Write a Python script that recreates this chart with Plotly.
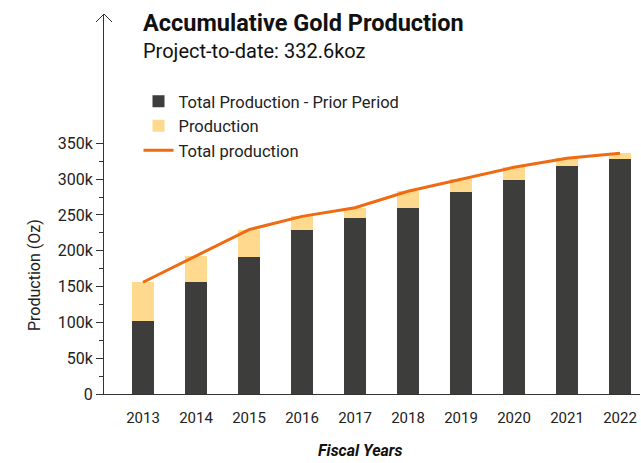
import plotly.graph_objects as go

years = ["2013", "2014", "2015", "2016", "2017", "2018", "2019", "2020", "2021", "2022"]
prior_period = [102000, 156000, 191000, 229000, 245500, 259500, 281500, 298500, 318000, 327500]
production = [54000, 36500, 38500, 19000, 14500, 23500, 18000, 18000, 11000, 8500]
total_production = [156000, 192500, 229500, 248000, 260000, 283000, 299500, 316500, 329000, 336000]
y_tick_vals = [0, 50000, 100000, 150000, 200000, 250000, 300000, 350000]
y_tick_text = ["0", "50k", "100k", "150k", "200k", "250k", "300k", "350k"]
y_minor_vals = [25000, 75000, 125000, 175000, 225000, 275000, 325000]

FONT = "Roboto"
DARK = "#3d3d3b"
GOLD = "#fed98e"
ORANGE = "#ef6a10"
AX = "#333333"

W, H = 641, 463
L, R, T, B = 104, 1, 14, 69
PW, PH = W - L - R, H - T - B


def px_x(px):
    return (px - L) / PW


def px_y(py):
    return (H - B - py) / PH


fig = go.Figure()
fig.add_trace(go.Bar(x=years, y=prior_period, name="Total Production - Prior Period",
                     marker=dict(color=DARK, line=dict(width=0)), width=0.43))
fig.add_trace(go.Bar(x=years, y=production, name="Production",
                     marker=dict(color=GOLD, line=dict(width=0)), width=0.43))
fig.add_trace(go.Scatter(x=years, y=total_production, name="Total production", mode="lines",
                         line=dict(color=ORANGE, width=3)))

fig.update_layout(
    width=W, height=H,
    margin=dict(l=L, r=R, t=T, b=B, pad=0),
    barmode="stack",
    plot_bgcolor="white", paper_bgcolor="white",
    font=dict(family=FONT, size=16, color="#222222"),
    showlegend=True,
    legend=dict(x=px_x(138.5), y=px_y(84), xanchor="left", yanchor="top",
                traceorder="normal", bgcolor="rgba(0,0,0,0)",
                font=dict(family=FONT, size=16.5, color="#222222")),
    xaxis=dict(type="category", range=[-0.736, 9.377], showline=True, linecolor=AX, linewidth=1,
               ticks="", showgrid=False, zeroline=False, ticklabelstandoff=10,
               tickfont=dict(family=FONT, size=15, color="#222222")),
    yaxis=dict(range=[0, 530500], showline=True, linecolor=AX, linewidth=1,
               tickmode="array", tickvals=y_tick_vals, ticktext=y_tick_text,
               ticks="outside", ticklen=7, tickcolor=AX, tickwidth=1,
               showgrid=False, zeroline=False,
               tickfont=dict(family=FONT, size=16, color="#222222"),
               minor=dict(tickmode="array", tickvals=y_minor_vals, ticks="outside",
                          ticklen=4, tickcolor=AX, tickwidth=1, showgrid=False)),
)

fig.add_shape(type="path", xref="paper", yref="paper", xsizemode="pixel", ysizemode="pixel",
              xanchor=0, yanchor=1, path="M-8,-8 L0,0 L8,-8",
              line=dict(color=AX, width=1))

fig.add_annotation(text="<b>Accumulative Gold Production</b>", xref="paper", yref="paper",
                   x=px_x(141), y=px_y(23), xanchor="left", yanchor="middle", showarrow=False,
                   font=dict(family=FONT, size=23.5, color="#111111"))
fig.add_annotation(text="Project-to-date: 332.6koz", xref="paper", yref="paper",
                   x=px_x(141), y=px_y(51), xanchor="left", yanchor="middle", showarrow=False,
                   font=dict(family=FONT, size=20, color="#111111"))
fig.add_annotation(text="<b><i>Fiscal Years</i></b>", xref="paper", yref="paper",
                   x=px_x(360), y=px_y(451), xanchor="center", yanchor="middle", showarrow=False,
                   font=dict(family=FONT, size=16, color="#111111"))
fig.add_annotation(text="Production (Oz)", xref="paper", yref="paper", textangle=-90,
                   x=px_x(34), y=px_y(275), xanchor="center", yanchor="middle", showarrow=False,
                   font=dict(family=FONT, size=16, color="#222222"))

fig.write_html("out.html", config={"displayModeBar": False},
               post_script="document.body.style.margin='0';")
